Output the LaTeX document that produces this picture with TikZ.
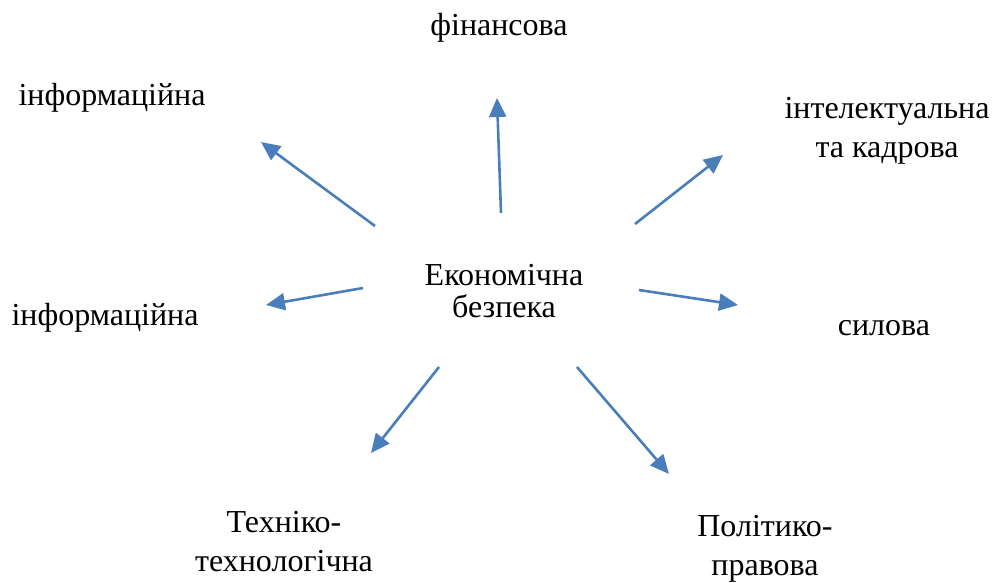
\documentclass[tikz,border=0pt]{standalone}
\usepackage{fontspec}
\setmainfont{Liberation Serif}
\usetikzlibrary{arrows.meta}
\definecolor{arrowblue}{HTML}{4A7EBB}
\begin{document}
\begin{tikzpicture}[x=1pt, y=-1pt,
    lbl/.style={font=\fontsize{32}{39}\selectfont, align=center, inner sep=0},
    arr/.style={draw=arrowblue, line width=2.6pt,
      -{Triangle[length=19pt,width=17pt]}}]
  \useasboundingbox (0,0) rectangle (996,582);
  % labels
  \node [lbl, font=\fontsize{32}{32}\selectfont] (core) at (504,291) {Економічна\\безпека};
  \node [lbl, anchor=base] (fin) at (499,35) {фінансова};
  \node [lbl, anchor=base] (infa) at (112,105) {інформаційна};
  \node [lbl] (intel) at (887,131) {інтелектуальна\\та кадрова};
  \node [lbl, anchor=base] (infb) at (105,325) {інформаційна};
  \node [lbl, anchor=base] (sil) at (884,335) {силова};
  \node [lbl] (tech) at (284,542) {Техніко-\\технологічна};
  \node [lbl] (pol) at (765,549) {Політико-\\правова};
  % arrow ends
  \foreach \nm/\sx/\sy/\ex/\ey in {fin/501/213/497/98, infa/375/226/261/142,
      intel/635/224/723/155, infb/363/288/266/305, sil/639/290/738/305,
      tech/439/367/371/453, pol/577/367/669/474} {
    \coordinate (\nm-s) at (\sx,\sy);
    \coordinate (\nm-e) at (\ex,\ey);
    \draw [arr] (\nm-s) -- (\nm-e);
  }
\end{tikzpicture}
\end{document}
